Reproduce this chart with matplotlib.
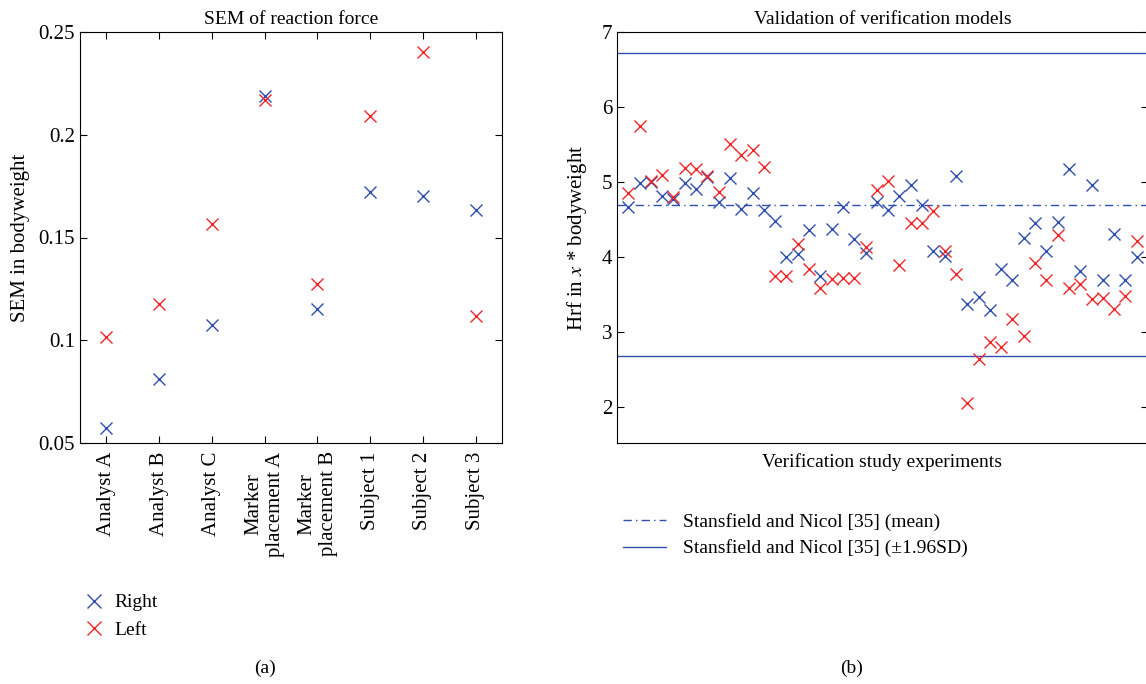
import numpy as np
import matplotlib
matplotlib.use("Agg")
import matplotlib.pyplot as plt
from matplotlib.lines import Line2D

plt.rcParams["font.family"] = ["Liberation Serif", "DejaVu Serif"]
plt.rcParams["mathtext.fontset"] = "stix"

BLUE = "#2f4fae"
RED = "#f0262a"

# (a) SEM of reaction force per condition
categories = ["Analyst A", "Analyst B", "Analyst C", "Marker\nplacement A",
              "Marker\nplacement B", "Subject 1", "Subject 2", "Subject 3"]
sem_right = [0.0573, 0.0811, 0.1072, 0.2189, 0.1153, 0.1721, 0.1703, 0.1635]
sem_left = [0.1018, 0.1174, 0.1566, 0.2168, 0.1272, 0.2092, 0.2401, 0.1120]

# (b) peak Hrf for every verification experiment
hrf_right = [4.67, 4.98, 5.00, 4.82, 4.77, 4.98, 4.91, 5.07, 4.73, 5.05,
             4.64, 4.86, 4.63, 4.48, 4.00, 4.04, 4.36, 3.75, 4.37, 4.67,
             4.24, 4.05, 4.74, 4.63, 4.82, 4.96, 4.70, 4.08, 4.02, 5.08,
             3.38, 3.47, 3.29, 3.84, 3.69, 4.25, 4.45, 4.08, 4.47, 5.18,
             3.81, 4.96, 3.69, 4.31, 3.69, 4.00]
hrf_left = [4.86, 5.75, 5.02, 5.09, 4.80, 5.19, 5.17, 5.08, 4.87, 5.51,
            5.36, 5.43, 5.20, 3.75, 3.75, 4.18, 3.84, 3.59, 3.71, 3.72,
            3.72, 4.14, 4.90, 5.01, 3.89, 4.45, 4.45, 4.61, 4.08, 3.78,
            2.06, 2.64, 2.87, 2.80, 3.17, 2.95, 3.92, 3.70, 4.30, 3.59,
            3.64, 3.44, 3.46, 3.31, 3.48, 4.22]
ref_mean = 4.70
ref_sd = 1.03

W, H = 1146, 684
fig = plt.figure(figsize=(W / 100, H / 100), dpi=100)

# ---- panel (a)
ax1 = fig.add_axes([80 / W, 1 - 443 / H, 422 / W, 411 / H])
xs = np.arange(1, len(categories) + 1)
ax1.plot(xs, sem_right, "x", color=BLUE, ms=8, mew=1.0)
ax1.plot(xs, sem_left, "x", color=RED, ms=8, mew=1.0)
ax1.set_xlim(0.5, 8.5)
ax1.set_ylim(0.05, 0.25)
ax1.set_yticks([0.05, 0.1, 0.15, 0.2, 0.25])
ax1.set_yticklabels(["0.05", "0.1", "0.15", "0.2", "0.25"])
ax1.set_xticks(xs)
ax1.set_xticklabels(categories, rotation=90, va="top", ha="center",
                    multialignment="center", fontsize=14)
ax1.tick_params(direction="in", top=True, right=True, length=5,
                labelsize=15, width=0.8)
ax1.tick_params(axis="x", pad=6)
ax1.set_title("SEM of reaction force", fontsize=14, pad=6)
ax1.set_ylabel("SEM in bodyweight", fontsize=15, labelpad=6)

# ---- panel (b)
ax2 = fig.add_axes([617 / W, 1 - 443 / H, 531 / W, 411 / H])
exp_idx = np.arange(1, len(hrf_right) + 1)
ax2.axhline(ref_mean, color=BLUE, lw=1.0, ls=(0, (6, 3, 1, 3)))
ax2.axhline(ref_mean + 1.96 * ref_sd, color=BLUE, lw=1.0)
ax2.axhline(ref_mean - 1.96 * ref_sd, color=BLUE, lw=1.0)
ax2.plot(exp_idx, hrf_right, "x", color=BLUE, ms=8, mew=1.0)
ax2.plot(exp_idx, hrf_left, "x", color=RED, ms=8, mew=1.0)
ax2.set_xlim(0, 47)
ax2.set_ylim(1.52, 7)
ax2.set_yticks([2, 3, 4, 5, 6, 7])
ax2.set_xticks([])
ax2.tick_params(direction="in", right=True, length=5, labelsize=15, width=0.8)
ax2.set_title("Validation of verification models", fontsize=14, pad=6)
ax2.set_xlabel("Verification study experiments", fontsize=14, labelpad=7)
ax2.set_ylabel(r"Hrf in $x$ * bodyweight", fontsize=15, labelpad=9)

# legends placed below each panel
leg_a = [Line2D([], [], ls="none", marker="x", color=BLUE, ms=10, mew=1.0),
         Line2D([], [], ls="none", marker="x", color=RED, ms=10, mew=1.0)]
fig.legend(leg_a, ["Right", "Left"], loc="upper left",
           bbox_to_anchor=(76 / W, 1 - 586 / H), frameon=False,
           fontsize=14, handlelength=1.0, handletextpad=0.6,
           labelspacing=0.5, borderaxespad=0)

leg_b = [Line2D([], [], color=BLUE, lw=1.0, ls=(0, (6, 3, 1, 3))),
         Line2D([], [], color=BLUE, lw=1.0)]
fig.legend(leg_b, ["Stansfield and Nicol [35] (mean)",
                   "Stansfield and Nicol [35] (\u00b11.96SD)"],
           loc="upper left", bbox_to_anchor=(615 / W, 1 - 505 / H),
           frameon=False, fontsize=14, handlelength=2.2,
           handletextpad=0.9, labelspacing=0.45, borderaxespad=0)

fig.text(265 / W, 1 - 668 / H, "(a)", ha="center", va="center", fontsize=14)
fig.text(852 / W, 1 - 668 / H, "(b)", ha="center", va="center", fontsize=14)

fig.savefig("out.png", dpi=100)
